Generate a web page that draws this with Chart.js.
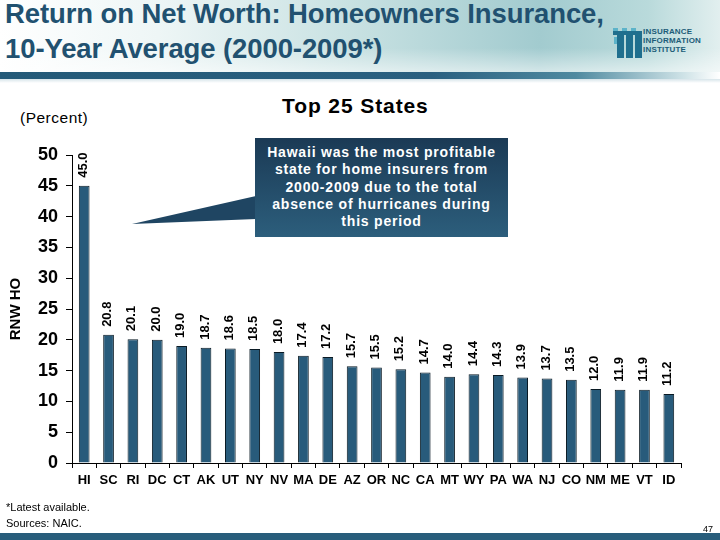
<!DOCTYPE html>
<html>
<head>
<meta charset="utf-8">
<script src="https://cdn.jsdelivr.net/npm/chart.js@4.4.1/dist/chart.umd.min.js"></script>
<style>
  html, body { margin:0; padding:0; width:720px; height:540px; overflow:hidden; background:#fff; font-family:"Liberation Sans", Arial, sans-serif; }
  #wrap { position:relative; width:720px; height:540px; }
  #hdr { position:absolute; left:0; top:0; width:720px; height:80px;
    background: linear-gradient(to bottom, rgba(255,255,255,0) 0%, rgba(255,255,255,0) 60%, rgba(255,255,255,0.5) 88%),
                linear-gradient(to right, #ffffff 0%, #eef6f6 22%, #c6e0e1 50%, #a2cbcf 75%, #b9dadb 90%, #e2efef 100%); }
  #hline { position:absolute; left:0; top:72px; width:720px; height:7px;
    background: linear-gradient(to right, #245a78 0%, #2a6080 60%, #4f8aa0 80%, #cfe3e7 95%, #ffffff 100%); }
  #hline2 { position:absolute; left:0; top:79px; width:720px; height:4px; background: linear-gradient(to bottom, #d7e5ea, #ffffff); }
  .title { position:absolute; left:5px; font-weight:bold; font-size:27.5px; color:#215170; white-space:nowrap; letter-spacing:-0.1px; }
  #logoText { position:absolute; left:643px; top:27px; font-size:8px; font-weight:bold; color:#1c5c78; line-height:9px; letter-spacing:0.2px; }
  #sub { position:absolute; left:282px; top:94px; font-weight:bold; font-size:21px; color:#000; letter-spacing:0.9px; white-space:nowrap; }
  #pct { position:absolute; left:20px; top:109px; font-size:15.5px; color:#000; letter-spacing:0.5px; }
  #box { position:absolute; left:255px; top:138px; width:253px; height:99px;
    background: linear-gradient(to bottom, #1b3a55, #2c5e7c); color:#fff; text-align:center; font-weight:bold;
    font-size:14px; line-height:17.3px; padding-top:6px; box-sizing:border-box; letter-spacing:0.8px; white-space:nowrap; }
  #ptr { position:absolute; left:0; top:0; }
  #foot1 { position:absolute; left:6px; top:501px; font-size:11px; color:#000; }
  #foot2 { position:absolute; left:6px; top:517px; font-size:11px; color:#000; }
  #pg { position:absolute; left:703px; top:524px; font-size:9px; color:#000; }
  #bbar { position:absolute; left:0; top:533px; width:720px; height:7px; background:#285d7b; }
  canvas { position:absolute; left:0; top:0; }
</style>
</head>
<body>
<div id="wrap">
  <div id="hdr"></div>
  <div id="hline"></div>
  <div id="hline2"></div>
  <div class="title" style="top:-2px;">Return on Net Worth: Homeowners Insurance,</div>
  <div class="title" style="top:33px;">10-Year Average (2000-2009*)</div>
  <svg id="logo" width="40" height="40" style="position:absolute;left:609px;top:24px;">
    <g fill="#1f6f8e">
      <rect x="8" y="7" width="7" height="27"/>
      <rect x="17" y="7" width="7" height="27"/>
      <rect x="26" y="7" width="7" height="27"/>
      <rect x="4" y="7" width="29" height="4"/>
    </g>
    <g fill="#5cb3c9">
      <rect x="4" y="4" width="5" height="3"/>
      <rect x="13" y="4" width="5" height="3"/>
      <rect x="22" y="4" width="5" height="3"/>
      <rect x="5" y="13" width="3" height="7"/>
    </g>
  </svg>
  <div id="logoText">INSURANCE<br>INFORMATION<br>INSTITUTE</div>
  <div id="pct">(Percent)</div>
  <div id="sub">Top 25 States</div>
  <canvas id="c" width="720" height="540"></canvas>
  <svg id="ptr" width="720" height="540"><polygon points="132,224 256,196 256,219" fill="#1f4562"/></svg>
  <div id="box">Hawaii was the most profitable<br>state for home insurers from<br>2000-2009 due to the total<br>absence of hurricanes during<br>this period</div>
  <div id="foot1">*Latest available.</div>
  <div id="foot2">Sources: NAIC.</div>
  <div id="pg">47</div>
  <div id="bbar"></div>
</div>
<script>
const states = ["HI","SC","RI","DC","CT","AK","UT","NY","NV","MA","DE","AZ","OR","NC","CA","MT","WY","PA","WA","NJ","CO","NM","ME","VT","ID"];
const rnw = [45.0,20.8,20.1,20.0,19.0,18.7,18.6,18.5,18.0,17.4,17.2,15.7,15.5,15.2,14.7,14.0,14.4,14.3,13.9,13.7,13.5,12.0,11.9,11.9,11.2];
const yTicks = [0,5,10,15,20,25,30,35,40,45,50];

const narrow = '"Liberation Sans Narrow", "Liberation Sans", Arial, sans-serif';

const valueLabels = {
  id: 'valueLabels',
  afterDatasetsDraw(chart) {
    const ctx = chart.ctx;
    const meta = chart.getDatasetMeta(0);
    ctx.save();
    ctx.fillStyle = '#000';
    ctx.font = 'bold 13px "Liberation Sans", Arial, sans-serif';
    ctx.textAlign = 'left';
    ctx.textBaseline = 'middle';
    meta.data.forEach((bar, i) => {
      ctx.save();
      ctx.translate(bar.x - 1, bar.y - 8);
      ctx.rotate(-Math.PI / 2);
      ctx.fillText(rnw[i].toFixed(1), 0, 0);
      ctx.restore();
    });
    ctx.restore();
  }
};

new Chart(document.getElementById('c'), {
  type: 'bar',
  data: {
    labels: states,
    datasets: [{
      data: rnw,
      backgroundColor: '#285b7b',
      borderColor: '#0a1a24',
      borderWidth: 1,
      barPercentage: 0.44,
      categoryPercentage: 1.0
    }]
  },
  options: {
    responsive: false,
    animation: false,
    events: [],
    layout: { padding: { left: 0, right: 39, top: 155, bottom: 47 } },
    plugins: { legend: { display: false }, tooltip: { enabled: false } },
    scales: {
      x: {
        grid: { display: true, drawOnChartArea: false, drawTicks: true, tickLength: 5, color: '#000', offset: true },
        border: { display: true, color: '#000', width: 1 },
        ticks: { color: '#000', font: { family: narrow, size: 13, weight: 'bold' }, padding: 5, maxRotation: 0, autoSkip: false },
        afterFit(scale) { scale.height = 30; }
      },
      y: {
        min: 0, max: 50,
        afterBuildTicks(scale) { scale.ticks = yTicks.map(v => ({ value: v })); },
        grid: { display: true, drawOnChartArea: false, drawTicks: true, tickLength: 6, color: '#000' },
        border: { display: true, color: '#000', width: 1 },
        ticks: { color: '#000', font: { family: narrow, size: 18, weight: 'bold' }, padding: 8 },
        title: { display: true, text: 'RNW HO', color: '#000', font: { family: '"Liberation Sans", Arial, sans-serif', size: 15, weight: 'bold' }, padding: { top: 7, bottom: 0 } },
        afterFit(scale) { scale.width = 72; }
      }
    }
  },
  plugins: [valueLabels]
});
</script>
</body>
</html>
